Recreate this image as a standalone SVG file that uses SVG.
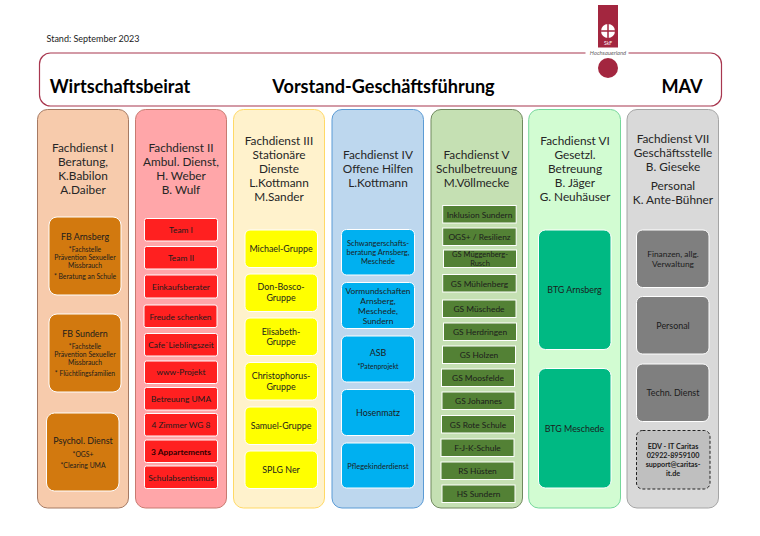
<svg xmlns="http://www.w3.org/2000/svg" width="760" height="536" viewBox="0 0 760 536">
<style>
text{font-family:"Lato","Liberation Sans",sans-serif;fill:#1c1c1c;text-anchor:middle}
.h{font-size:18.100px;font-weight:700;fill:#000}
.t{font-size:11.800px;fill:#262626}
.c{stroke-width:1;}
.s{stroke:#fff;stroke-width:1}
.m{font-size:8.900px}
.n{font-size:8.400px}
.x{font-size:6.800px}
.y{font-size:7.500px}
.e{font-size:7.200px;font-weight:700}
.or{fill:#d2790f}.rd{fill:#ff2020}.ye{fill:#ffff00}.bl{fill:#00b0f0}.gr{fill:#538135}.te{fill:#00b983}.ga{fill:#7f7f7f}
</style>
<rect width="760" height="536" fill="#fff"/>
<text x="93" y="42" style="font-size:9px">Stand: September 2023</text>
<g id="kopf">
<rect x="39.500" y="53" width="682" height="53" rx="11" fill="#fff" stroke="#a8374f" stroke-width="1.200"/>
<text class="h" x="120" y="92.500">Wirtschaftsbeirat</text>
<text class="h" x="383.500" y="92.500">Vorstand-Geschäftsführung</text>
<text class="h" x="682" y="92.500">MAV</text>
</g>
<g id="logo">
<rect x="585.500" y="50" width="43" height="7" fill="#fff"/>
<rect x="598" y="5" width="20" height="42.500" fill="#a3263f"/>
<circle cx="608" cy="31" r="7" fill="#fff"/>
<path d="M608 24V38M601 31H615" stroke="#a3263f" stroke-width="1.500"/>
<text x="608" y="44.500" style="font-size:5px;fill:#fff">SkF</text>
<text x="608" y="54.500" style="font-size:5.800px;font-style:italic;fill:#666">Hochsauerland</text>
<circle cx="608" cy="68" r="10" fill="#a3263f"/>
</g>
<g id="fd1">
<rect class="c" x="37.500" y="109.500" width="91" height="398.500" rx="10" fill="#f7cbac" stroke="#a67a63"/>
<text class="t" x="83" y="152">Fachdienst I</text><text class="t" x="83" y="166">Beratung,</text><text class="t" x="83" y="180">K.Babilon</text><text class="t" x="83" y="194">A.Daiber</text>
<rect class="s or" x="49" y="217" width="72" height="78" rx="8"/>
<text class="m" x="85" y="239.500">FB Arnsberg</text><text class="x" x="85" y="252">*Fachstelle</text><text class="x" x="85" y="260">Prävention Sexueller</text><text class="x" x="85" y="268">Missbrauch</text><text class="x" x="85" y="279">* Beratung an Schule</text>
<rect class="s or" x="49" y="314" width="72" height="78" rx="8"/>
<text class="m" x="85" y="336.500">FB Sundern</text><text class="x" x="85" y="349">*Fachstelle</text><text class="x" x="85" y="357">Prävention Sexueller</text><text class="x" x="85" y="365">Missbrauch</text><text class="x" x="85" y="376">* Flüchtlingsfamilien</text>
<rect class="s or" x="46.500" y="413" width="72.500" height="78" rx="8"/>
<text class="m" x="83" y="444">Psychol. Dienst</text><text class="x" x="83" y="456.500">*OGS+</text><text class="x" x="83" y="468">*Clearing UMA</text>
</g>
<g id="fd2">
<rect class="c" x="135.500" y="109.500" width="91" height="398.500" rx="10" fill="#ffa6a9" stroke="#c87a70"/>
<text class="t" x="181" y="152">Fachdienst II</text><text class="t" x="181" y="166">Ambul. Dienst,</text><text class="t" x="181" y="180">H. Weber</text><text class="t" x="181" y="194">B. Wulf</text>
<rect class="s rd" x="144.500" y="218.500" width="73" height="22.500" rx="2"/><text class="n" x="181" y="232.800">Team I</text>
<rect class="s rd" x="144.500" y="246.500" width="73" height="22.500" rx="2"/><text class="n" x="181" y="260.800">Team II</text>
<rect class="s rd" x="144.500" y="275" width="73" height="23" rx="2"/><text class="n" x="181" y="289.500">Einkaufsberater</text>
<rect class="s rd" x="144" y="305" width="73" height="22.500" rx="2"/><text class="n" x="180.500" y="319.500">Freude schenken</text>
<rect class="s rd" x="144.500" y="333.500" width="73" height="22.500" rx="2"/><text class="n" x="181" y="348">Cafe`Lieblingszeit</text>
<rect class="s rd" x="144.500" y="361" width="73" height="22.500" rx="2"/><text class="n" x="181" y="375">www-Projekt</text>
<rect class="s rd" x="144.500" y="387.500" width="73" height="22.500" rx="2"/><text class="n" x="181" y="401.500">Betreuung UMA</text>
<rect class="s rd" x="144.500" y="413.500" width="73" height="22.500" rx="2"/><text class="n" x="181" y="428">4 Zimmer WG 8</text>
<rect class="s rd" x="144.500" y="440" width="73" height="22.500" rx="2"/><text class="n" x="181" y="454.500" style="font-weight:700;fill:#300">3 Appartements</text>
<rect class="s rd" x="144.500" y="466" width="73" height="22.500" rx="2"/><text class="n" x="181" y="480.500">Schulabsentismus</text>
</g>
<g id="fd3">
<rect class="c" x="233.500" y="109.500" width="91" height="398.500" rx="10" fill="#fff2cc" stroke="#ffd966"/>
<text class="t" x="279" y="145">Fachdienst III</text><text class="t" x="279" y="159">Stationäre</text><text class="t" x="279" y="173">Dienste</text><text class="t" x="279" y="187">L.Kottmann</text><text class="t" x="279" y="201">M.Sander</text>
<rect class="s ye" x="245" y="230" width="72.500" height="37.500" rx="5"/><text class="m" x="281" y="251.500">Michael-Gruppe</text>
<rect class="s ye" x="245" y="274" width="72.500" height="37.500" rx="5"/><text class="m" x="281" y="290">Don-Bosco-</text><text class="m" x="281" y="300.500">Gruppe</text>
<rect class="s ye" x="245" y="318" width="72.500" height="37.500" rx="5"/><text class="m" x="281" y="334.500">Elisabeth-</text><text class="m" x="281" y="345">Gruppe</text>
<rect class="s ye" x="245" y="362.500" width="72.500" height="37.500" rx="5"/><text class="m" x="281" y="379">Christophorus-</text><text class="m" x="281" y="389.500">Gruppe</text>
<rect class="s ye" x="245" y="407" width="72.500" height="37.500" rx="5"/><text class="m" x="281" y="428.500">Samuel-Gruppe</text>
<rect class="s ye" x="245" y="451" width="72.500" height="37.500" rx="5"/><text class="m" x="281" y="473">SPLG Ner</text>
</g>
<g id="fd4">
<rect class="c" x="332" y="109.500" width="91.500" height="398.500" rx="10" fill="#bdd7ee" stroke="#5b9bd5"/>
<text class="t" x="378" y="159">Fachdienst IV</text><text class="t" x="378" y="173">Offene Hilfen</text><text class="t" x="378" y="187">L.Kottmann</text>
<rect class="s bl" x="341.500" y="229.500" width="73" height="45.500" rx="5"/><text class="y" x="378" y="246">Schwangerschafts-</text><text class="y" x="378" y="255">beratung Arnsberg,</text><text class="y" x="378" y="264">Meschede</text>
<rect class="s bl" x="341.500" y="282.500" width="73" height="46" rx="5"/><text class="n" x="378" y="294">Vormundschaften</text><text class="n" x="378" y="304">Arnsberg,</text><text class="n" x="378" y="314">Meschede,</text><text class="n" x="378" y="324">Sundern</text>
<rect class="s bl" x="341.500" y="336" width="73" height="46" rx="5"/><text class="m" x="378" y="356">ASB</text><text class="x" x="378" y="369">*Patenprojekt</text>
<rect class="s bl" x="341.500" y="389.500" width="73" height="46" rx="5"/><text class="m" x="378" y="415.500">Hosenmatz</text>
<rect class="s bl" x="341.500" y="443" width="73" height="45" rx="5"/><text class="y" x="378" y="468.500">Pflegekinderdienst</text>
</g>
<g id="fd5">
<rect class="c" x="431" y="109.500" width="91.500" height="398.500" rx="10" fill="#c5e0b3" stroke="#70895f"/>
<text class="t" x="476.500" y="159">Fachdienst V</text><text class="t" x="476.500" y="173">Schulbetreuung</text><text class="t" x="476.500" y="187">M.Völlmecke</text>
<rect class="s gr" x="442.700" y="205.500" width="73.500" height="17.500"/><text class="n" x="479.500" y="217.500">Inklusion Sundern</text>
<rect class="s gr" x="442.700" y="228" width="73.500" height="17.500"/><text class="n" x="479.500" y="240">OGS+ / Resilienz</text>
<rect class="s gr" x="443.500" y="250" width="73" height="17.500"/><text class="y" x="480" y="257">GS Müggenberg-</text><text class="y" x="480" y="265.500">Rusch</text>
<rect class="s gr" x="442.700" y="274.500" width="73.500" height="17.500"/><text class="n" x="479.500" y="286.500">GS Mühlenberg</text>
<rect class="s gr" x="442.500" y="300" width="73.500" height="17.500"/><text class="n" x="479" y="312">GS Müschede</text>
<rect class="s gr" x="443.500" y="323" width="73" height="17.500"/><text class="n" x="480" y="335">GS Herdringen</text>
<rect class="s gr" x="442.500" y="346" width="73" height="17.500"/><text class="n" x="479" y="358">GS Holzen</text>
<rect class="s gr" x="441.500" y="369" width="73" height="17.500"/><text class="n" x="478" y="381">GS Moosfelde</text>
<rect class="s gr" x="442" y="392" width="73" height="17.500"/><text class="n" x="478.500" y="404">GS Johannes</text>
<rect class="s gr" x="441.500" y="415.500" width="73" height="17.500"/><text class="n" x="478" y="427.500">GS Rote Schule</text>
<rect class="s gr" x="441" y="439" width="73" height="17.500"/><text class="n" x="477.500" y="451">F-J-K-Schule</text>
<rect class="s gr" x="441" y="462" width="73" height="17.500"/><text class="n" x="477.500" y="474">RS Hüsten</text>
<rect class="s gr" x="442" y="485" width="73" height="17.500"/><text class="n" x="478.500" y="497">HS Sundern</text>
</g>
<g id="fd6">
<rect class="c" x="528.700" y="109.500" width="91.800" height="398.500" rx="10" fill="#d2fcd2" stroke="#75d79a"/>
<text class="t" x="575" y="145">Fachdienst VI</text><text class="t" x="575" y="159">Gesetzl.</text><text class="t" x="575" y="173">Betreuung</text><text class="t" x="575" y="187">B. Jäger</text><text class="t" x="575" y="201">G. Neuhäuser</text>
<rect class="s te" x="538.500" y="230" width="72.500" height="119.500" rx="7"/><text class="m" x="574.500" y="293">BTG Arnsberg</text>
<rect class="s te" x="538.500" y="368.500" width="72.500" height="119.500" rx="7"/><text class="m" x="574.500" y="431.500">BTG Meschede</text>
</g>
<g id="fd7">
<rect class="c" x="627" y="109.500" width="91.500" height="398.500" rx="10" fill="#d9d9d9" stroke="#a5a5a5"/>
<text class="t" x="673" y="143">Fachdienst VII</text><text class="t" x="673" y="157">Geschäftsstelle</text><text class="t" x="673" y="171">B. Gieseke</text><text class="t" x="673" y="190">Personal</text><text class="t" x="673" y="204">K. Ante-Bühner</text>
<rect class="s ga" x="636.500" y="230" width="72.500" height="57.500" rx="6"/><text class="n" x="673" y="256.500">Finanzen, allg.</text><text class="n" x="673" y="267">Verwaltung</text>
<rect class="s ga" x="636.500" y="296.500" width="72.500" height="57.500" rx="6"/><text class="m" x="673" y="328.500">Personal</text>
<rect class="s ga" x="636.500" y="364" width="72.500" height="57.500" rx="6"/><text class="m" x="673" y="396">Techn. Dienst</text>
<rect x="636.500" y="430.500" width="73.500" height="58.500" rx="6" fill="#bfbfbf" stroke="#222" stroke-dasharray="3 2"/>
<text class="e" x="673" y="449">EDV - IT Caritas</text><text class="e" x="673" y="458">02922-8959100</text><text class="e" x="673" y="467">support@caritas-</text><text class="e" x="673" y="476">it.de</text>
</g>
</svg>
